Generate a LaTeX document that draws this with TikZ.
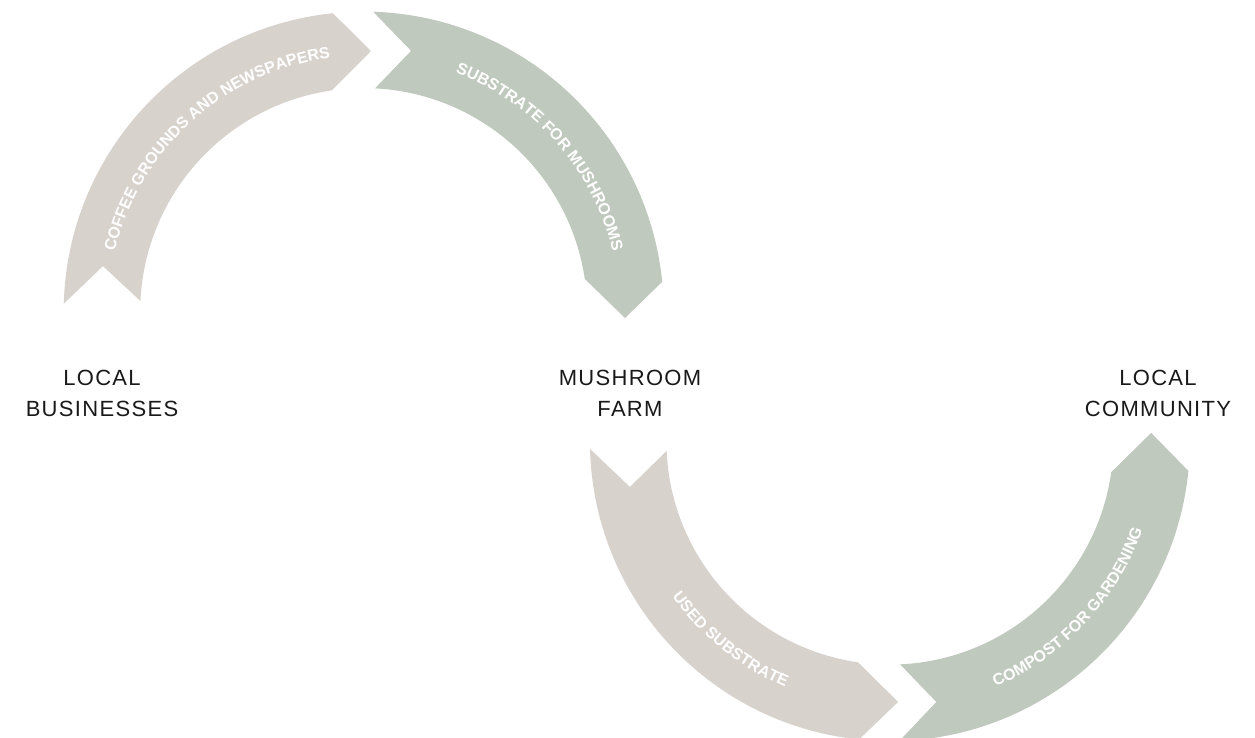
\documentclass[tikz,border=0pt]{standalone}
\usepackage{fontspec}
\setmainfont{Liberation Sans}
\newfontfamily\labelfont[LetterSpace=6]{Liberation Sans}
\newfontfamily\arcfont{Liberation Sans Bold}
\usetikzlibrary{decorations.text}
\definecolor{beige}{RGB}{216,210,205}
\definecolor{sage}{RGB}{192,201,189}
\tikzset{
  placelabel/.style={align=center, inner sep=0pt, font=\labelfont\fontsize{22}{31.5}\selectfont, text=black!90},
  arctext/.style={decorate, decoration={text along path, text align=center, text color=white, text={#1}}},
}
\begin{document}
\begin{tikzpicture}[x=1pt,y=1pt]
\useasboundingbox (0,0) rectangle (1255,737);
\clip (0,0) rectangle (1255,737);
% top pair
\begin{scope}[shift={(363.7,425.4)}]
  \fill[beige] (178.5:300) arc[start angle=178.5, end angle=95.9, radius=300]
     -- (88.4:260.7) -- (98.2:223.5) arc[start angle=98.2, end angle=177.3, radius=223.5]
     -- (170.1:264.7) -- cycle;
  \fill[sage] (88.2:300) arc[start angle=88.2, end angle=5.7, radius=300]
     -- (-1.4:261.4) -- (8.4:223.5) arc[start angle=8.4, end angle=87.1, radius=223.5]
     -- (79.7:265) -- cycle;
  \path[arctext={|\arcfont\fontsize{16}{16}\selectfont|COFFEE GROUNDS AND NEWSPAPERS}]
     (168:256) arc[start angle=168, end angle=96, radius=256];
  \path[arctext={|\arcfont\fontsize{16}{16}\selectfont|SUBSTRATE FOR MUSHROOMS}]
     (79.5:256) arc[start angle=79.5, end angle=3, radius=256];
\end{scope}
% bottom pair
\begin{scope}[shift={(889.9,295.9)}]
  \fill[beige] (181.5:300) arc[start angle=181.5, end angle=264.1, radius=300]
     -- (271.8:261) -- (261.8:223.5) arc[start angle=261.8, end angle=182.5, radius=223.5]
     -- (190:264) -- cycle;
  \fill[sage] (271.8:300) arc[start angle=271.8, end angle=354.3, radius=300]
     -- (361.8:261.4) -- (352:223.5) arc[start angle=352, end angle=272.6, radius=223.5]
     -- (280.1:265) -- cycle;
  \path[arctext={|\arcfont\fontsize{16}{16}\selectfont|USED SUBSTRATE}]
     (191.5:267.5) arc[start angle=191.5, end angle=271, radius=267.5];
  \path[arctext={|\arcfont\fontsize{16}{16}\selectfont|COMPOST FOR GARDENING}]
     (280.5:267.5) arc[start angle=280.5, end angle=353.5, radius=267.5];
\end{scope}
\node[placelabel] (biz) at (102,343.5) {LOCAL\\BUSINESSES};
\node[placelabel] (farm) at (630,343.5) {MUSHROOM\\FARM};
\node[placelabel] (comm) at (1158,343.5) {LOCAL\\COMMUNITY};
\end{tikzpicture}
\end{document}
